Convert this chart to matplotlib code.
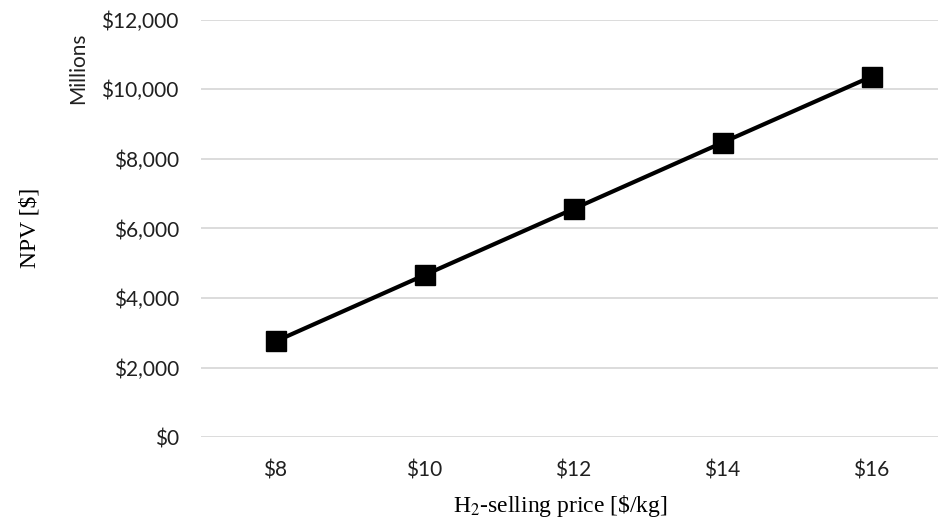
import matplotlib.pyplot as plt
from matplotlib.ticker import FuncFormatter

plt.rcParams["mathtext.fontset"] = "stix"

prices = ["$8", "$10", "$12", "$14", "$16"]
npv = [2755, 4660, 6560, 8465, 10360]  # millions $
y_ticks = [0, 2000, 4000, 6000, 8000, 10000, 12000]

fig = plt.figure(figsize=(9.38, 5.25), dpi=100)
ax = fig.add_axes([201 / 938, 1 - 437.3 / 525, 745 / 938, 417.8 / 525])

x = list(range(len(prices)))
ax.plot(x, npv, color="black", lw=3, marker="s", markersize=14, zorder=3)

ax.set_xlim(-0.5, 4.5)
ax.set_ylim(0, 12000)
ax.set_yticks(y_ticks)
ax.yaxis.set_major_formatter(FuncFormatter(lambda v, p: f"${v:,.0f}"))
ax.set_xticks(x)
ax.set_xticklabels(prices)

ax.grid(axis="y", color="#d9d9d9", lw=1.3)
ax.set_axisbelow(True)
for s in ax.spines.values():
    s.set_visible(False)
ax.tick_params(length=0, labelsize=15, colors="#202020")
ax.tick_params(axis="y", pad=16)
ax.tick_params(axis="x", pad=17)
for lbl in ax.get_xticklabels() + ax.get_yticklabels():
    lbl.set_family("Lato")

fig.text(560 / 938, 1 - 506 / 525, "H$_2$-selling price [\\$/kg]", ha="center", va="center",
         family="Liberation Serif", fontsize=17)
fig.text(30 / 938, 1 - 228 / 525, "NPV [\\$]", ha="center", va="center", rotation=90,
         family="Liberation Serif", fontsize=17)
fig.text(78 / 938, 1 - 68 / 525, "Millions", ha="center", va="center", rotation=90,
         family="Lato", fontsize=15, color="#202020")

fig.savefig("out.png", dpi=100)
